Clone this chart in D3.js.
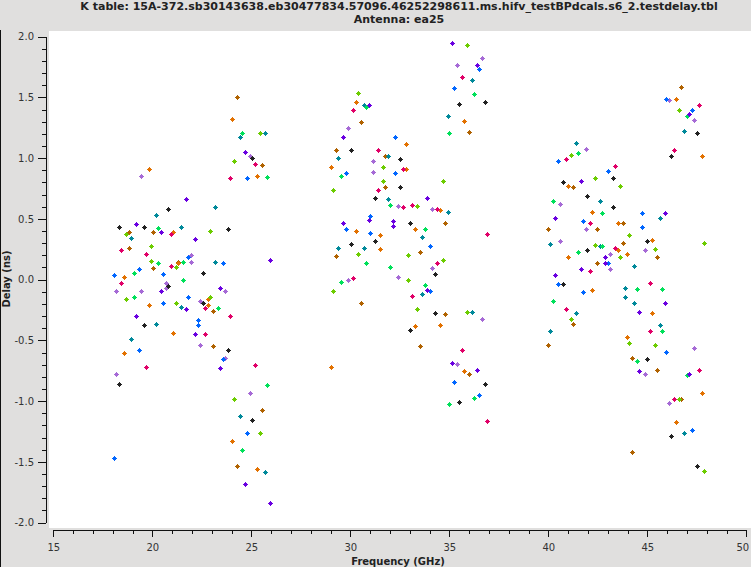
<!DOCTYPE html>
<html><head><meta charset="utf-8">
<script src="https://cdn.jsdelivr.net/npm/d3@7"></script>
<style>html,body{margin:0;padding:0;background:#e0dfde;}svg{display:block;}</style>
</head><body>
<script>
const titleLine1 = "K table: 15A-372.sb30143638.eb30477834.57096.46252298611.ms.hifv_testBPdcals.s6_2.testdelay.tbl";
const titleLine2 = "Antenna: ea25";
const xLabel = "Frequency (GHz)";
const yLabel = "Delay (ns)";
const xTicks = [15,20,25,30,35,40,45,50];
const yTicks = [-2.0,-1.5,-1.0,-0.5,0.0,0.5,1.0,1.5,2.0];

// [frequency (GHz), delay (ns)]
const blackPts = [[20.81,0.58],[18.33,0.43],[19.60,0.43],[22.58,0.05],[20.81,-0.06],[22.58,-0.20],[19.60,-0.38],[23.84,-0.58],[18.33,-0.86],[25.05,-1.16],[25.05,1.00],[23.84,0.41],
 [35.51,1.44],[36.82,1.46],[30.05,1.06],[32.53,0.99],[32.53,0.76],[31.26,0.67],[33.03,0.46],[30.05,0.29],[31.26,0.31],[34.29,0.04],[34.29,-0.28],[33.03,-0.42],[36.82,-0.86],[35.51,-1.01],
 [47.53,1.20],[46.21,1.01],[43.28,0.83],[40.76,0.80],[41.97,0.68],[43.28,0.59],[45.00,0.31],[41.97,0.24],[40.76,-0.04],[45.00,-0.66],[46.21,-1.29],[47.53,-1.54]];
const bluePts = [[21.82,0.18],[23.59,0.13],[18.08,0.03],[19.34,0.08],[20.56,0.04],[20.56,-0.20],[21.82,-0.15],[22.32,-0.34],[22.32,-0.38],[19.34,-0.58],[23.59,-0.66],[24.80,-1.27],[18.08,-1.47],[24.80,0.83],
 [36.52,1.73],[35.25,1.57],[32.27,1.17],[29.80,0.87],[32.27,0.87],[31.01,0.52],[29.80,0.41],[31.01,0.38],[34.04,0.27],[34.04,-0.10],[35.25,-0.85],[36.52,-0.95],
 [45.96,1.48],[47.27,1.39],[40.51,0.97],[43.03,0.89],[41.77,0.48],[44.75,0.54],[44.75,0.43],[43.03,0.13],[40.51,-0.04],[41.77,-0.11],[45.96,-0.60],[47.27,-1.24]];
const greenPts = [[20.30,0.42],[21.57,0.14],[20.30,0.13],[19.09,0.05],[21.57,-0.01],[19.09,-0.15],[23.33,-0.24],[25.81,-0.87],[24.55,-1.41],[24.55,1.20],[25.81,0.84],
 [36.26,1.52],[35.00,1.20],[30.81,1.42],[29.55,0.85],[32.02,0.61],[33.79,0.41],[30.81,0.13],[32.02,0.10],[29.55,-0.02],[33.79,-0.05],[36.26,-0.98],[35.00,-1.03],
 [47.02,1.34],[41.52,1.04],[40.25,0.64],[42.73,0.54],[42.73,0.27],[41.52,0.22],[44.49,-0.08],[45.76,-0.08],[40.25,-0.18],[45.76,-0.43],[44.49,-0.67],[47.02,-0.79]];
const limePts = [[18.69,0.37],[19.95,0.27],[19.95,0.15],[21.21,0.10],[18.69,-0.16],[21.21,-0.20],[22.93,-0.15],[24.14,-0.99],[25.45,-1.27],[25.45,1.20],[24.14,0.97],[22.93,0.40],
 [35.91,1.93],[30.40,1.53],[31.67,0.92],[31.67,0.81],[29.14,0.73],[34.70,0.81],[33.38,0.60],[30.40,0.21],[32.93,0.20],[34.70,0.16],[32.93,-0.01],[29.14,-0.10],[33.38,-0.25],[35.91,-0.27],
 [46.62,1.39],[41.16,1.02],[42.37,0.83],[43.64,0.77],[44.09,0.36],[42.37,0.28],[47.88,0.30],[45.40,0.25],[43.64,0.18],[41.16,-0.33],[44.09,-0.53],[45.40,-0.54],[46.62,-0.99],[47.88,-1.58]];
const tealPts = [[20.20,0.53],[18.94,0.34],[21.46,0.43],[23.18,0.14],[21.46,-0.23],[20.20,-0.37],[18.94,-0.49],[24.44,-1.13],[25.71,-1.59],[24.44,1.17],[25.71,1.20],[23.18,0.59],
 [36.16,1.64],[34.95,1.34],[30.71,1.43],[31.92,1.01],[29.39,1.00],[31.92,0.66],[34.95,0.55],[33.64,0.35],[29.39,0.26],[30.71,0.26],[33.64,-0.12],[36.16,-0.27],
 [46.87,1.22],[41.41,1.12],[42.63,0.64],[45.66,0.50],[40.10,0.29],[42.63,0.27],[44.34,0.11],[43.89,-0.07],[43.89,-0.15],[44.34,-0.20],[41.41,-0.28],[45.66,-0.38],[40.10,-0.43],[46.87,-1.27]];
const purplePts = [[21.72,0.66],[19.19,0.45],[20.45,0.39],[22.17,0.33],[25.96,0.16],[20.45,-0.10],[23.43,-0.07],[21.72,-0.25],[19.19,-0.30],[22.17,-0.45],[23.43,-0.73],[24.70,-1.69],[25.96,-1.84],[24.70,1.05],
 [35.15,1.94],[36.41,1.76],[30.96,1.43],[29.65,1.17],[33.89,0.67],[30.96,0.49],[29.65,0.46],[32.17,0.48],[32.17,0.44],[33.89,-0.09],[35.15,-0.69],[36.41,-0.75],
 [47.12,1.36],[41.67,0.81],[45.91,0.54],[40.35,0.50],[42.88,0.18],[42.88,0.13],[41.67,0.08],[40.35,0.03],[45.91,-0.20],[44.60,-0.27],[44.60,-0.76],[47.12,-0.78]];
const magentaPts = [[20.96,0.37],[18.43,0.24],[19.70,0.21],[20.96,0.11],[18.43,-0.03],[22.68,-0.24],[23.94,-0.30],[22.68,-0.45],[25.20,-0.71],[19.70,-0.72],[25.20,0.95],[23.94,0.83],
 [35.66,1.66],[30.15,1.39],[31.41,1.06],[32.68,0.91],[31.41,0.73],[32.68,0.59],[33.13,0.61],[34.39,0.58],[36.92,0.37],[34.39,0.13],[30.15,0.01],[33.13,-0.14],[35.66,-0.58],[36.92,-1.17],
 [47.63,1.43],[46.36,1.06],[40.91,0.99],[43.38,0.93],[42.12,0.46],[43.38,0.26],[42.12,0.07],[45.15,-0.03],[40.91,-0.25],[45.15,-0.43],[47.63,-0.75],[46.36,-0.99]];
const orangePts = [[19.85,0.91],[21.06,0.39],[21.31,0.13],[18.59,0.02],[19.85,-0.21],[22.83,-0.16],[22.83,-0.21],[21.06,-0.44],[18.59,-0.61],[24.04,-1.33],[25.30,-1.56],[24.04,1.32],[25.30,0.85],
 [35.76,1.30],[30.30,1.46],[32.83,1.11],[29.04,0.92],[32.83,0.91],[34.55,0.57],[30.30,0.40],[31.52,0.36],[33.28,0.41],[31.52,0.25],[33.28,-0.39],[34.55,-0.38],[29.04,-0.72],[35.76,-0.76],
 [46.47,1.48],[47.78,1.01],[41.01,0.77],[42.22,0.55],[43.54,0.46],[45.25,0.32],[43.54,0.24],[43.99,0.21],[41.01,0.18],[42.22,-0.09],[45.25,-0.28],[43.99,-0.48],[47.78,-0.94],[46.47,-1.18]];
const brownPts = [[18.84,0.39],[20.05,0.39],[18.84,0.26],[20.05,0.09],[21.31,0.14],[23.08,-0.26],[23.08,-0.55],[25.56,-1.08],[24.29,-1.54],[24.29,1.50],[25.56,0.94],
 [36.01,1.21],[30.56,1.29],[29.29,1.06],[31.77,1.01],[31.77,0.76],[34.80,0.46],[29.29,0.19],[33.54,0.22],[34.80,-0.29],[30.56,-0.20],[33.54,-0.55],[36.01,-0.78],
 [46.72,1.58],[41.26,0.76],[43.79,0.46],[40.00,0.41],[42.47,0.41],[43.79,0.30],[45.51,0.18],[42.47,0.13],[41.26,-0.37],[40.00,-0.54],[44.24,-0.65],[45.51,-0.75],[46.72,-0.99],[44.24,-1.42]];
const lavenderPts = [[19.44,0.85],[21.97,0.20],[21.97,0.14],[20.71,-0.03],[20.71,-0.07],[18.18,-0.10],[19.44,-0.10],[23.69,-0.10],[22.42,-0.18],[22.42,-0.54],[23.69,-0.65],[18.18,-0.78],[24.95,-0.94],[24.95,1.01],
 [36.67,1.82],[35.40,1.76],[29.90,1.24],[31.16,0.97],[31.16,0.88],[32.42,0.60],[34.14,0.58],[34.14,0.09],[32.42,0.02],[29.90,-0.01],[36.67,-0.33],[35.40,-0.70],
 [46.11,1.47],[47.37,1.31],[41.92,1.07],[40.61,0.62],[41.92,0.41],[40.61,0.31],[44.90,0.24],[43.13,0.21],[43.13,0.08],[47.37,-0.57],[44.90,-0.78],[46.11,-1.02]];

const series = [
  {pts: brownPts, color: "#b06200"},
  {pts: lavenderPts, color: "#a66ad6"},
  {pts: tealPts, color: "#00899a"},
  {pts: orangePts, color: "#e27100"},
  {pts: limePts, color: "#6ccc00"},
  {pts: greenPts, color: "#00e05a"},
  {pts: bluePts, color: "#0066ff"},
  {pts: purplePts, color: "#6a00e0"},
  {pts: magentaPts, color: "#e00068"},
  {pts: blackPts, color: "#222222"}
];

const W = 751, H = 567;
const svg = d3.select("body").append("svg").attr("width", W).attr("height", H)
  .style("font-family", "DejaVu Sans, sans-serif");

svg.append("rect").attr("width", W).attr("height", H).attr("fill", "#e0dfde");
svg.append("line").attr("x1", 0.5).attr("x2", 0.5).attr("y1", 30).attr("y2", H).attr("stroke", "#111").attr("stroke-width", 1);
svg.append("rect").attr("x", 49).attr("y", 31).attr("width", W - 49).attr("height", 497).attr("fill", "#ffffff");

const x = d3.scaleLinear().domain([15, 50]).range([53.3, 746.3]);
const y = d3.scaleLinear().domain([-2, 2]).range([522.6, 36.6]);

// minor ticks
const xMinor = d3.range(15, 51, 1).filter(v => v % 5 !== 0);
const yMinor = d3.range(-20, 21, 1).filter(v => v % 5 !== 0).map(v => v / 10);

const gx = svg.append("g").attr("transform", "translate(0,530)");
gx.call(d3.axisBottom(x).tickValues(xTicks).tickFormat(d => String(d)).tickSize(7).tickSizeOuter(0).tickPadding(7));
gx.append("g").call(d3.axisBottom(x).tickValues(xMinor).tickFormat("").tickSize(4).tickSizeOuter(0));
// keep the last label inside the window
gx.selectAll(".tick text").filter(d => d === 50).attr("dx", -4);

const gy = svg.append("g").attr("transform", "translate(46,0)");
gy.call(d3.axisLeft(y).tickValues(yTicks).tickFormat(d => d.toFixed(1)).tickSize(8).tickSizeOuter(0).tickPadding(4));
gy.append("g").call(d3.axisLeft(y).tickValues(yMinor).tickFormat("").tickSize(4).tickSizeOuter(0));

svg.selectAll(".tick text").attr("font-size", 10).attr("fill", "#333").style("font-family", "DejaVu Sans, sans-serif");
svg.selectAll(".domain, .tick line").attr("stroke", "#111").attr("shape-rendering", "crispEdges");

// markers: 5x5 pixel diamond
const marker = "M0,-2h1v1h1v1h1v1h-1v1h-1v1h-1v-1h-1v-1h-1v-1h1v-1h1z";
const gp = svg.append("g");
series.forEach(s => {
  gp.selectAll(null).data(s.pts).enter().append("path")
    .attr("d", marker)
    .attr("transform", d => `translate(${Math.floor(x(d[0]))},${Math.floor(y(d[1]))})`)
    .attr("fill", s.color)
    .attr("shape-rendering", "crispEdges");
});

// titles
svg.append("text").attr("x", 399).attr("y", 10).attr("text-anchor", "middle")
  .attr("font-size", 11).attr("font-weight", "bold").attr("fill", "#222").text(titleLine1);
svg.append("text").attr("x", 399).attr("y", 23).attr("text-anchor", "middle")
  .attr("font-size", 11).attr("font-weight", "bold").attr("fill", "#222").text(titleLine2);
svg.append("text").attr("x", 398).attr("y", 565).attr("text-anchor", "middle")
  .attr("font-size", 10).attr("font-weight", "bold").attr("fill", "#222").text(xLabel);
svg.append("text").attr("transform", "translate(10,279) rotate(-90)").attr("text-anchor", "middle")
  .attr("font-size", 10).attr("font-weight", "bold").attr("fill", "#222").text(yLabel);
</script>
</body></html>
